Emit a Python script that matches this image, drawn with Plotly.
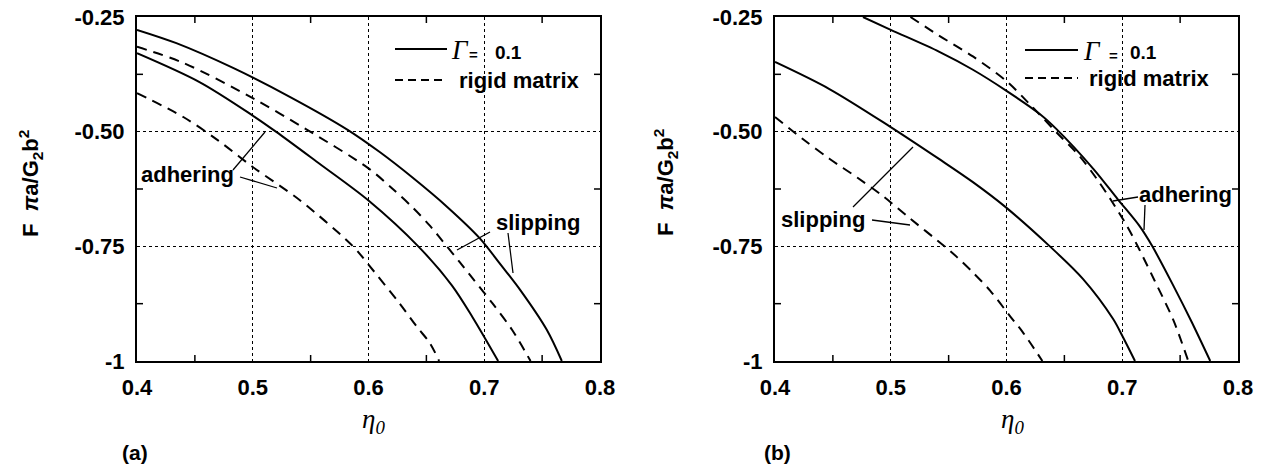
import plotly.graph_objects as go

W, H = 1265, 466

# ---------------- data ----------------
eta_ticks = [0.4, 0.5, 0.6, 0.7, 0.8]
eta_ticktext = ["0.4", "0.5", "0.6", "0.7", "0.8"]
eta_half_ticks = [0.45, 0.55, 0.65, 0.75]
F_ticks = [-1.0, -0.75, -0.5, -0.25]
F_ticktext = ["-1", "-0.75", "-0.50", "-0.25"]
F_half_ticks = [-0.875, -0.625, -0.375]

# panel (a)
a_slip_G_eta = [0.400, 0.434, 0.483, 0.532, 0.582, 0.610, 0.638, 0.668, 0.696, 0.713, 0.731, 0.754, 0.767]
a_slip_G_F = [-0.278, -0.307, -0.361, -0.424, -0.496, -0.545, -0.600, -0.664, -0.732, -0.786, -0.845, -0.932, -1.000]
a_slip_R_eta = [0.400, 0.440, 0.500, 0.547, 0.600, 0.621, 0.638, 0.653, 0.668, 0.679, 0.690, 0.707, 0.724, 0.740]
a_slip_R_F = [-0.315, -0.350, -0.427, -0.496, -0.580, -0.625, -0.665, -0.705, -0.751, -0.785, -0.820, -0.874, -0.932, -1.000]
a_adh_G_eta = [0.400, 0.454, 0.500, 0.520, 0.555, 0.600, 0.643, 0.672, 0.690, 0.712]
a_adh_G_F = [-0.329, -0.392, -0.465, -0.500, -0.565, -0.650, -0.750, -0.835, -0.905, -1.000]
a_adh_R_eta = [0.400, 0.440, 0.470, 0.500, 0.541, 0.587, 0.600, 0.627, 0.642, 0.653, 0.661]
a_adh_R_F = [-0.416, -0.468, -0.519, -0.577, -0.650, -0.751, -0.790, -0.875, -0.926, -0.961, -1.000]

# panel (b)
b_adh_G_eta = [0.476, 0.500, 0.542, 0.571, 0.600, 0.629, 0.643, 0.675, 0.696, 0.715, 0.726, 0.745, 0.760, 0.776]
b_adh_G_F = [-0.250, -0.278, -0.326, -0.365, -0.411, -0.462, -0.494, -0.581, -0.647, -0.706, -0.750, -0.840, -0.915, -1.000]
b_adh_R_eta = [0.517, 0.542, 0.571, 0.600, 0.620, 0.643, 0.663, 0.678, 0.690, 0.704, 0.715, 0.728, 0.744, 0.757]
b_adh_R_F = [-0.250, -0.291, -0.336, -0.390, -0.440, -0.501, -0.553, -0.603, -0.648, -0.705, -0.758, -0.825, -0.910, -1.000]
b_slip_G_eta = [0.400, 0.447, 0.500, 0.542, 0.571, 0.599, 0.637, 0.666, 0.692, 0.700, 0.711]
b_slip_G_F = [-0.348, -0.407, -0.490, -0.560, -0.610, -0.664, -0.749, -0.821, -0.908, -0.945, -1.000]
b_slip_R_eta = [0.400, 0.424, 0.447, 0.471, 0.493, 0.517, 0.547, 0.557, 0.571, 0.586, 0.603, 0.614, 0.631]
b_slip_R_F = [-0.468, -0.516, -0.559, -0.600, -0.640, -0.690, -0.751, -0.773, -0.807, -0.847, -0.902, -0.937, -1.000]

# ---------------- figure ----------------
FONT = "Liberation Sans"
SERIF = "Liberation Serif"
DASH = "10px,7px"


def P(px, py):
    return px / W, 1 - py / H


fig = go.Figure()


def curve(x, y, dash, xa, ya):
    fig.add_trace(go.Scatter(
        x=x, y=y, mode="lines", xaxis=xa, yaxis=ya, showlegend=False,
        hoverinfo="skip",
        line=dict(color="black", width=2, dash=dash, shape="spline", smoothing=0.9)))


curve(a_slip_G_eta, a_slip_G_F, "solid", "x", "y")
curve(a_slip_R_eta, a_slip_R_F, DASH, "x", "y")
curve(a_adh_G_eta, a_adh_G_F, "solid", "x", "y")
curve(a_adh_R_eta, a_adh_R_F, DASH, "x", "y")
curve(b_adh_G_eta, b_adh_G_F, "solid", "x2", "y2")
curve(b_adh_R_eta, b_adh_R_F, DASH, "x2", "y2")
curve(b_slip_G_eta, b_slip_G_F, "solid", "x2", "y2")
curve(b_slip_R_eta, b_slip_R_F, DASH, "x2", "y2")

ydom = [1 - 361 / H, 1 - 17 / H]
xdom_a = [137 / W, 600 / W]
xdom_b = [775 / W, 1238 / W]

tickfont = dict(family=FONT, size=22, color="black", weight="bold")


def xaxis(dom, anchor):
    return dict(domain=dom, anchor=anchor, range=[0.4, 0.8], tickvals=eta_ticks,
                ticktext=eta_ticktext, showgrid=True, gridcolor="black", gridwidth=1,
                griddash="dot", showline=True, linecolor="black", linewidth=2,
                mirror=True, ticks="", zeroline=False, tickfont=tickfont,
                ticklabelstandoff=6, automargin=False)


def yaxis(dom, anchor):
    return dict(domain=dom, anchor=anchor, range=[-1, -0.25], tickvals=F_ticks,
                ticktext=F_ticktext, showgrid=True, gridcolor="black", gridwidth=1,
                griddash="dot", showline=True, linecolor="black", linewidth=2,
                mirror=True, ticks="", zeroline=False, tickfont=tickfont,
                ticklabelstandoff=6, automargin=False)


annotations = []
shapes = []

# small inside ticks at the half-way values, on all four sides of each box
TICK_PX = 6
for xr, yr in [("x", "y"), ("x2", "y2")]:
    fy = TICK_PX / 344
    fx = TICK_PX / 463
    for v in eta_half_ticks:
        for y0, y1 in [(0, fy), (1, 1 - fy)]:
            shapes.append(dict(type="line", xref=xr, yref=yr + " domain", x0=v, x1=v,
                               y0=y0, y1=y1, line=dict(color="black", width=1.5)))
    for v in F_half_ticks:
        for x0, x1 in [(0, fx), (1, 1 - fx)]:
            shapes.append(dict(type="line", xref=xr + " domain", yref=yr, x0=x0, x1=x1,
                               y0=v, y1=v, line=dict(color="black", width=1.5)))


def text(px, py, s, size=22, family=FONT, bold=True, angle=0, xanchor="center"):
    x, y = P(px, py)
    annotations.append(dict(x=x, y=y, xref="paper", yref="paper", text=s,
                            showarrow=False, xanchor=xanchor, yanchor="middle",
                            textangle=angle,
                            font=dict(family=family, size=size, color="black",
                                      weight="bold" if bold else "normal")))


def seg(p0, p1, width=1.3, dash="solid"):
    x0, y0 = P(*p0)
    x1, y1 = P(*p1)
    shapes.append(dict(type="line", xref="paper", yref="paper", x0=x0, y0=y0,
                       x1=x1, y1=y1, line=dict(color="black", width=width, dash=dash)))


ytitle = "F  <i>π</i>a/G<sub>2</sub>b<sup>2</sup>"
xtitle = "<i>η</i><sub><i>0</i></sub>"

# ---- panel (a) ----
text(30, 183, ytitle, size=22, angle=-90)
text(373, 421, xtitle, size=27, family=SERIF, bold=False)
text(135, 452, "(a)", size=21)
# legend
seg((395, 49), (447, 49), width=2)
seg((395, 80), (447, 80), width=2, dash="8px,5px")
text(460, 50, "<i>Γ</i>", size=27, family=SERIF, bold=False)
text(473, 54, "=", size=15)
text(508, 52, "0.1", size=19)
text(519, 80, "rigid matrix", size=22)
# labels
text(187, 174, "adhering", size=22)
seg((233, 170), (265, 132))
seg((240, 177), (277, 188))
text(538, 222, "slipping", size=22)
seg((490, 232), (457, 250))
seg((508, 233), (513, 273))

# ---- panel (b) ----
text(665, 183, ytitle, size=22, angle=-90)
text(1012, 421, xtitle, size=27, family=SERIF, bold=False)
text(777, 452, "(b)", size=21)
seg((1025, 50), (1078, 50), width=2)
seg((1025, 78), (1078, 78), width=2, dash="8px,5px")
text(1092, 51, "<i>Γ</i>", size=27, family=SERIF, bold=False)
text(1113, 55, "=", size=15)
text(1143, 53, "0.1", size=19)
text(1149, 78, "rigid matrix", size=22)
text(1185, 194, "adhering", size=22)
seg((1138, 197), (1113, 201))
seg((1145, 205), (1144, 230))
text(823, 219, "slipping", size=22)
seg((853, 207), (913, 147))
seg((872, 220), (910, 225))

fig.update_layout(
    width=W, height=H, margin=dict(l=0, r=0, t=0, b=0, autoexpand=False),
    paper_bgcolor="white", plot_bgcolor="white", showlegend=False,
    xaxis=xaxis(xdom_a, "y"), yaxis=yaxis(ydom, "x"),
    xaxis2=xaxis(xdom_b, "y2"), yaxis2=yaxis(ydom, "x2"),
    annotations=annotations, shapes=shapes,
)

fig.write_html(
    "out.html",
    config={"displayModeBar": False},
    post_script="document.body.style.margin='0';document.body.style.overflow='hidden';",
)
